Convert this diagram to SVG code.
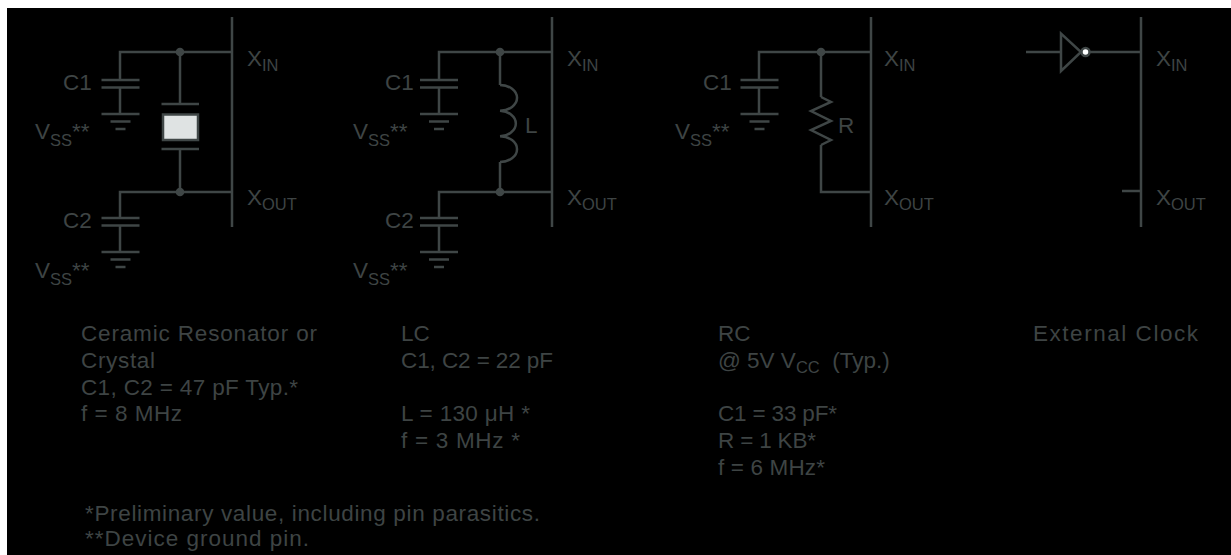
<svg xmlns="http://www.w3.org/2000/svg" width="1231" height="555" viewBox="0 0 1231 555">
<style>
.w{stroke:#3f4646;stroke-width:2.5;fill:none}
.d{fill:#3f4646}
.t{font-family:"Liberation Sans",Arial,sans-serif;font-size:22.5px;fill:#3e4444}
.s{font-size:16.5px}
</style>
<defs>
<g id="cap" class="w"><line x1="-19" y1="0" x2="19" y2="0"/><line x1="-19" y1="7.5" x2="19" y2="7.5"/></g>
<g id="gnd" class="w"><line x1="-19" y1="0" x2="19" y2="0"/><line x1="-10" y1="7.5" x2="10" y2="7.5"/><line x1="-5" y1="15" x2="5" y2="15"/></g>
</defs>
<rect x="0" y="0" width="1231" height="555" fill="#ffffff"/>
<rect x="7" y="8" width="1224" height="547" fill="#000000"/>

<g id="connectors" class="w">
<path d="M120,80 V52 H232 M180,52 V104 M180,149 V192 M120,218 V192 H232 M120,87.5 V114 M120,225.5 V252"/>
<path d="M439,80 V52 H552 M500,52 V85 M500,162 V192 M439,218 V192 H552 M439,87.5 V114 M439,225.5 V252"/>
<path d="M759,80 V52 H871 M821,52 V97 M821,145 V192 H871 M759,87.5 V114"/>
<path d="M1026,52 H1061 M1089.5,52 H1141 M1122,191 H1141"/>
</g>

<g id="panel1-chip"><line class="w" x1="232" y1="17" x2="232" y2="227"/>
<text class="t" x="247" y="66">X<tspan class="s" dy="5">IN</tspan></text>
<text class="t" x="247" y="205">X<tspan class="s" dy="5">OUT</tspan></text></g>
<g id="panel1-c1"><use href="#cap" x="120.5" y="80"/><text class="t" x="63" y="90">C1</text></g>
<g id="panel1-gnd1"><use href="#gnd" x="120.5" y="114"/><text class="t" x="35" y="139">V<tspan class="s" dy="7">SS</tspan><tspan dy="-7">**</tspan></text></g>
<g id="panel1-crystal"><line class="w" x1="161.5" y1="104" x2="199" y2="104"/><rect class="w" x="163" y="114.5" width="35" height="25.5" style="fill:#dfe3e3"/><line class="w" x1="161.5" y1="149" x2="199" y2="149"/></g>
<g id="panel1-dots"><circle class="d" cx="180" cy="52" r="4.3"/><circle class="d" cx="180" cy="192" r="4.3"/></g>
<g id="panel1-c2"><use href="#cap" x="120.5" y="218"/><text class="t" x="63" y="228">C2</text></g>
<g id="panel1-gnd2"><use href="#gnd" x="120.5" y="252"/><text class="t" x="35" y="278">V<tspan class="s" dy="7">SS</tspan><tspan dy="-7">**</tspan></text></g>

<g id="panel2-chip"><line class="w" x1="552" y1="17" x2="552" y2="227"/>
<text class="t" x="567" y="66">X<tspan class="s" dy="5">IN</tspan></text>
<text class="t" x="567" y="205">X<tspan class="s" dy="5">OUT</tspan></text></g>
<g id="panel2-c1"><use href="#cap" x="439" y="80"/><text class="t" x="385" y="90">C1</text></g>
<g id="panel2-gnd1"><use href="#gnd" x="439" y="114"/><text class="t" x="353" y="139">V<tspan class="s" dy="7">SS</tspan><tspan dy="-7">**</tspan></text></g>
<g id="panel2-inductor"><path class="w" d="M500,85 A17 12.83 0 0 1 500,110.7 A17 12.83 0 0 1 500,136.3 A17 12.83 0 0 1 500,162"/><text class="t" x="525" y="133">L</text></g>
<g id="panel2-dots"><circle class="d" cx="500" cy="52" r="4.3"/><circle class="d" cx="500" cy="192" r="4.3"/></g>
<g id="panel2-c2"><use href="#cap" x="439" y="218"/><text class="t" x="385" y="228">C2</text></g>
<g id="panel2-gnd2"><use href="#gnd" x="439" y="252"/><text class="t" x="353" y="278">V<tspan class="s" dy="7">SS</tspan><tspan dy="-7">**</tspan></text></g>

<g id="panel3-chip"><line class="w" x1="871" y1="17" x2="871" y2="227"/>
<text class="t" x="884" y="66">X<tspan class="s" dy="5">IN</tspan></text>
<text class="t" x="884" y="205">X<tspan class="s" dy="5">OUT</tspan></text></g>
<g id="panel3-c1"><use href="#cap" x="759.5" y="80"/><text class="t" x="703" y="90">C1</text></g>
<g id="panel3-gnd1"><use href="#gnd" x="759.5" y="114"/><text class="t" x="675" y="139">V<tspan class="s" dy="7">SS</tspan><tspan dy="-7">**</tspan></text></g>
<g id="panel3-resistor"><polyline class="w" points="821,97 831,102 811,111 831,121 811,130 831,140 821,145"/><text class="t" x="838" y="133">R</text></g>
<g id="panel3-dot"><circle class="d" cx="821" cy="52" r="4.3"/></g>

<g id="panel4-chip"><line class="w" x1="1141" y1="17" x2="1141" y2="227"/>
<text class="t" x="1156" y="66">X<tspan class="s" dy="5">IN</tspan></text>
<text class="t" x="1156" y="205">X<tspan class="s" dy="5">OUT</tspan></text></g>
<g id="panel4-inverter"><polygon class="w" points="1061,33.5 1061,71 1081,52"/><circle class="w" cx="1085.5" cy="52" r="4" style="fill:#ffffff"/></g>

<g id="caption1" class="t">
<text x="81" y="341" textLength="236">Ceramic Resonator or</text>
<text x="81" y="368" textLength="74">Crystal</text>
<text x="81" y="395" textLength="217">C1, C2 = 47 pF Typ.*</text>
<text x="81" y="421" textLength="101">f = 8 MHz</text>
</g>
<g id="caption2" class="t">
<text x="401" y="341">LC</text>
<text x="401" y="368" textLength="152">C1, C2 = 22 pF</text>
<text x="401" y="421" textLength="129">L = 130 μH *</text>
<text x="401" y="448" textLength="119">f = 3 MHz *</text>
</g>
<g id="caption3" class="t">
<text x="718" y="341">RC</text>
<text x="718" y="368" xml:space="preserve">@ 5V V<tspan class="s" dy="5">CC</tspan><tspan dy="-5">  (Typ.)</tspan></text>
<text x="718" y="421" textLength="119">C1 = 33 pF*</text>
<text x="718" y="448" textLength="98">R = 1 KB*</text>
<text x="718" y="475" textLength="107">f = 6 MHz*</text>
</g>
<g id="caption4" class="t">
<text x="1033" y="341" textLength="165">External Clock</text>
</g>
<g id="footnotes" class="t">
<text x="85" y="521" textLength="455">*Preliminary value, including pin parasitics.</text>
<text x="85" y="546" textLength="224">**Device ground pin.</text>
</g>
</svg>
